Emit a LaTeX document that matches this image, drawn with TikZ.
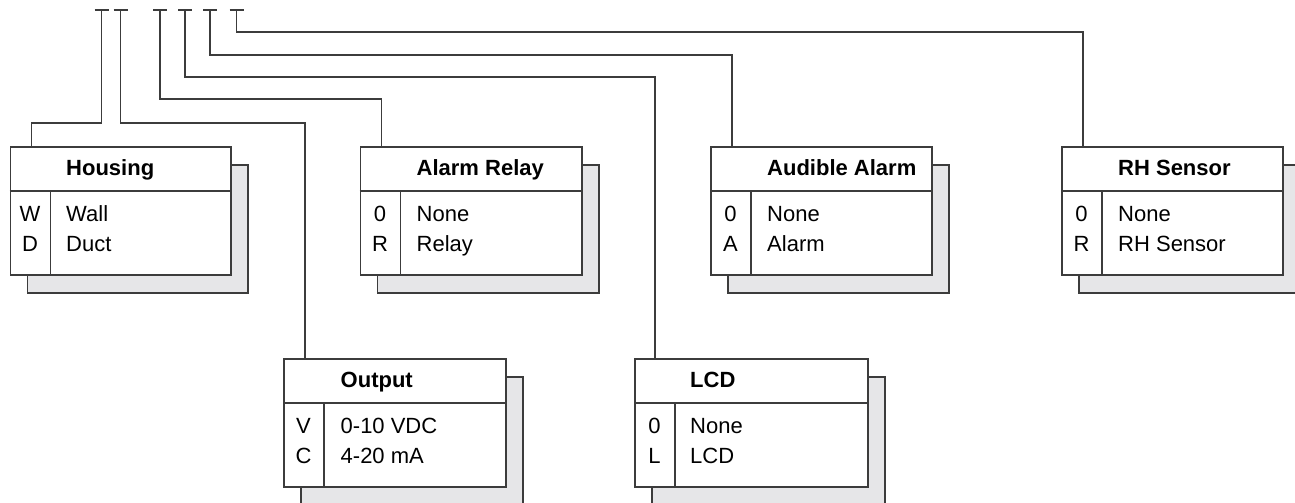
\documentclass[tikz,border=0pt]{standalone}
\usepackage{xcolor}
\usepackage{fontspec}
\setmainfont{Liberation Sans}
\usepackage{tikz}
\usetikzlibrary{shadows,positioning}

\definecolor{linegray}{HTML}{3C3C3C}
\definecolor{shadowgray}{HTML}{E6E6E8}

\begin{document}
\begin{tikzpicture}[
    x=1pt, y=-1pt,
    every node/.style={font=\fontsize{22}{29.5}\selectfont, text=black},
    optbox/.style={
        draw=linegray,
        line width=1.5pt,
        fill=white,
        minimum height=128pt,
        inner sep=0pt,
        anchor=north west,
        copy shadow={shadow xshift=17pt, shadow yshift=-18pt,
                     fill=shadowgray, draw=linegray, line width=1.5pt}
    },
    boxtitle/.style={font=\bfseries\fontsize{22}{29.5}\selectfont, anchor=base west, inner sep=0pt},
    codes/.style={align=center, anchor=base, inner sep=0pt},
    opts/.style={align=left, anchor=base west, inner sep=0pt},
    wire/.style={draw=linegray, line width=1.2pt},
    sep/.style={draw=linegray, line width=1.5pt}
]
                \useasboundingbox (0,0) rectangle (1295,503);
                \clip (0,0) rectangle (1295,503);

                % option boxes
                \node[optbox, minimum width=220.5pt] (housing) at (9.5,146) {};
                \node[optbox, minimum width=221.5pt] (alarm) at (359.5,146) {};
                \node[optbox, minimum width=221pt] (audible) at (710,146) {};
                \node[optbox, minimum width=221pt] (rh) at (1061,146) {};
                \node[optbox, minimum width=222pt] (output) at (283,358) {};
                \node[optbox, minimum width=233pt] (lcd) at (634,358) {};

                % header and column lines
                \draw[sep] ([yshift=-45pt]housing.north west) -- ([yshift=-45pt]housing.north east);
                \draw[sep] ([xshift=41pt,yshift=-45pt]housing.north west) -- ([xshift=41pt]housing.south west);
                \draw[sep] ([yshift=-45pt]alarm.north west) -- ([yshift=-45pt]alarm.north east);
                \draw[sep] ([xshift=41pt,yshift=-45pt]alarm.north west) -- ([xshift=41pt]alarm.south west);
                \draw[sep] ([yshift=-45pt]audible.north west) -- ([yshift=-45pt]audible.north east);
                \draw[sep] ([xshift=41pt,yshift=-45pt]audible.north west) -- ([xshift=41pt]audible.south west);
                \draw[sep] ([yshift=-45pt]rh.north west) -- ([yshift=-45pt]rh.north east);
                \draw[sep] ([xshift=41pt,yshift=-45pt]rh.north west) -- ([xshift=41pt]rh.south west);
                \draw[sep] ([yshift=-45pt]output.north west) -- ([yshift=-45pt]output.north east);
                \draw[sep] ([xshift=41pt,yshift=-45pt]output.north west) -- ([xshift=41pt]output.south west);
                \draw[sep] ([yshift=-45pt]lcd.north west) -- ([yshift=-45pt]lcd.north east);
                \draw[sep] ([xshift=41pt,yshift=-45pt]lcd.north west) -- ([xshift=41pt]lcd.south west);

                % titles
                \node[boxtitle] (housing-title) at ([xshift=56.5pt,yshift=-29pt]housing.north west) {Housing};
                \node[boxtitle] (alarm-title) at ([xshift=57pt,yshift=-29pt]alarm.north west) {Alarm Relay};
                \node[boxtitle] (audible-title) at ([xshift=57pt,yshift=-29pt]audible.north west) {Audible Alarm};
                \node[boxtitle] (rh-title) at ([xshift=57pt,yshift=-29pt]rh.north west) {RH Sensor};
                \node[boxtitle] (output-title) at ([xshift=57.5pt,yshift=-29pt]output.north west) {Output};
                \node[boxtitle] (lcd-title) at ([xshift=56pt,yshift=-29pt]lcd.north west) {LCD};

                % codes and options (base = last line)
                \node[codes] (housing-codes) at ([xshift=20.5pt,yshift=-105.2pt]housing.north west) {W\\D};
                \node[opts] (housing-opts) at ([xshift=56.5pt,yshift=-105.2pt]housing.north west) {Wall\\Duct};
                \node[codes] (alarm-codes) at ([xshift=20.5pt,yshift=-105.2pt]alarm.north west) {0\\R};
                \node[opts] (alarm-opts) at ([xshift=57pt,yshift=-105.2pt]alarm.north west) {None\\Relay};
                \node[codes] (audible-codes) at ([xshift=20.5pt,yshift=-105.2pt]audible.north west) {0\\A};
                \node[opts] (audible-opts) at ([xshift=57pt,yshift=-105.2pt]audible.north west) {None\\Alarm};
                \node[codes] (rh-codes) at ([xshift=20.5pt,yshift=-105.2pt]rh.north west) {0\\R};
                \node[opts] (rh-opts) at ([xshift=57pt,yshift=-105.2pt]rh.north west) {None\\RH Sensor};
                \node[codes] (output-codes) at ([xshift=20.5pt,yshift=-105.2pt]output.north west) {V\\C};
                \node[opts] (output-opts) at ([xshift=57.5pt,yshift=-105.2pt]output.north west) {0-10 VDC\\4-20 mA};
                \node[codes] (lcd-codes) at ([xshift=20.5pt,yshift=-105.2pt]lcd.north west) {0\\L};
                \node[opts] (lcd-opts) at ([xshift=56pt,yshift=-105.2pt]lcd.north west) {None\\LCD};

                % model number positions
                \coordinate (pos-housing) at (101.7,10);
                \coordinate (pos-output) at (120.7,10);
                \coordinate (pos-alarm) at (160,10);
                \coordinate (pos-lcd) at (185,10);
                \coordinate (pos-audible) at (210,10);
                \coordinate (pos-rh) at (236.7,10);

                \draw[wire] ([xshift=-7pt]pos-housing) -- ([xshift=7pt]pos-housing);
                \draw[wire] ([xshift=-7pt]pos-output) -- ([xshift=7pt]pos-output);
                \draw[wire] ([xshift=-7pt]pos-alarm) -- ([xshift=7pt]pos-alarm);
                \draw[wire] ([xshift=-7pt]pos-lcd) -- ([xshift=7pt]pos-lcd);
                \draw[wire] ([xshift=-7pt]pos-audible) -- ([xshift=7pt]pos-audible);
                \draw[wire] ([xshift=-7pt]pos-rh) -- ([xshift=7pt]pos-rh);

                % connectors
                \draw[wire] (pos-housing) -- ++(0,113) -| ([xshift=22pt]housing.north west);
                \draw[wire] (pos-output) -- ++(0,113) -| ([xshift=22pt]output.north west);
                \draw[wire] (pos-alarm) -- ++(0,89) -| ([xshift=22pt]alarm.north west);
                \draw[wire] (pos-lcd) -- ++(0,67) -| ([xshift=21pt]lcd.north west);
                \draw[wire] (pos-audible) -- ++(0,45) -| ([xshift=22pt]audible.north west);
                \draw[wire] (pos-rh) -- ++(0,22) -| ([xshift=22pt]rh.north west);

            \end{tikzpicture}
\end{document}
